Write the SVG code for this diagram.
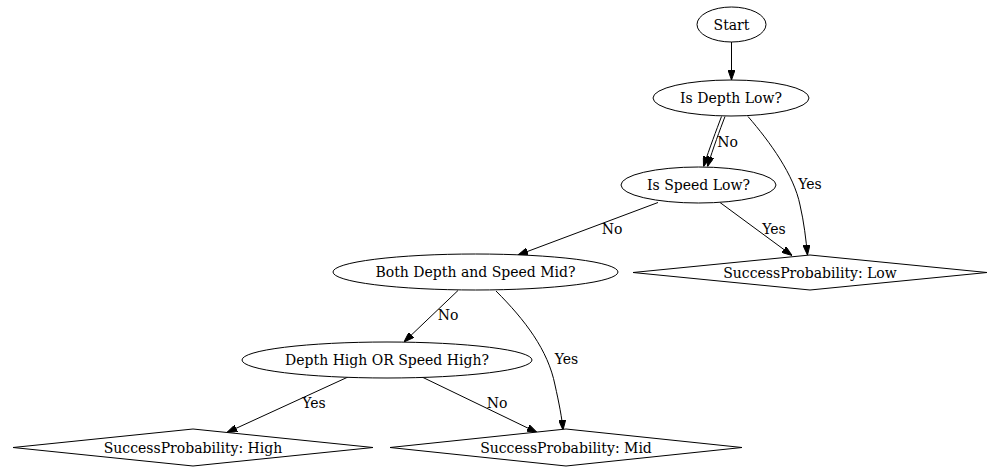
<svg xmlns="http://www.w3.org/2000/svg" width="989" height="468" viewBox="0 0 989 468">
<style>
  .node ellipse, .node polygon { fill: #ffffff; stroke: #000000; stroke-width: 1; }
  .node text, .label { font-family: "DejaVu Serif", serif; font-size: 14px; fill: #000000; text-anchor: middle; }
  .edge { fill: none; stroke: #000000; stroke-width: 1; marker-end: url(#arrow); }
</style>
<defs>
  <marker id="arrow" markerUnits="userSpaceOnUse" markerWidth="10" markerHeight="7" refX="10" refY="3.5" orient="auto">
    <path d="M0,0 L10,3.5 L0,7 Z" fill="#000000" stroke="#000000" stroke-width="1"/>
  </marker>
</defs>
<rect width="989" height="468" fill="#ffffff"/>
<g id="connectors">
  <path class="edge" d="M731.5,42 L731.5,80"/>
  <path class="edge" d="M721.5,116.5 C716,131 710,147 703.5,166.5"/>
  <path class="edge" d="M725,116.5 C719.5,131 713.5,147 707.5,166.5"/>
  <path class="edge" d="M748,116.5 C770,142 794,175 800,205 C804,222 806,240 807.5,255"/>
  <path class="edge" d="M720,202.5 L792,255.5"/>
  <path class="edge" d="M658,202.5 L518,255"/>
  <path class="edge" d="M458,290.5 L404,342"/>
  <path class="edge" d="M496,291 C525,320 548,350 555,385 C559,403 562,418 563,430"/>
  <path class="edge" d="M348,377 L227,432.5"/>
  <path class="edge" d="M422,377 L537,432.5"/>
  <text class="label" x="727.5" y="147">No</text>
  <text class="label" x="810" y="189">Yes</text>
  <text class="label" x="612" y="234">No</text>
  <text class="label" x="774" y="234">Yes</text>
  <text class="label" x="448" y="320">No</text>
  <text class="label" x="566.5" y="364">Yes</text>
  <text class="label" x="314" y="408">Yes</text>
  <text class="label" x="497" y="408">No</text>
</g>
<g id="start" class="node">
  <ellipse cx="731.5" cy="24.5" rx="34.5" ry="17.5"/>
  <text x="731.5" y="29.5">Start</text>
</g>
<g id="depth_low" class="node">
  <ellipse cx="731" cy="98" rx="78" ry="18"/>
  <text x="731" y="103">Is Depth Low?</text>
</g>
<g id="speed_low" class="node">
  <ellipse cx="698.5" cy="185" rx="77.5" ry="18"/>
  <text x="698.5" y="190">Is Speed Low?</text>
</g>
<g id="both_mid" class="node">
  <ellipse cx="475.5" cy="272" rx="142.5" ry="18"/>
  <text x="475.5" y="277">Both Depth and Speed Mid?</text>
</g>
<g id="high_or" class="node">
  <ellipse cx="387" cy="360" rx="145" ry="18"/>
  <text x="387" y="365">Depth High OR Speed High?</text>
</g>
<g id="prob_low" class="node">
  <polygon points="633,272.5 810,255 987,272.5 810,290"/>
  <text x="810" y="277.5">SuccessProbability: Low</text>
</g>
<g id="prob_high" class="node">
  <polygon points="13,447.5 193,429 373,447.5 193,466"/>
  <text x="193" y="452.5">SuccessProbability: High</text>
</g>
<g id="prob_mid" class="node">
  <polygon points="390,447.5 566,429 742,447.5 566,466"/>
  <text x="566" y="452.5">SuccessProbability: Mid</text>
</g>
</svg>
